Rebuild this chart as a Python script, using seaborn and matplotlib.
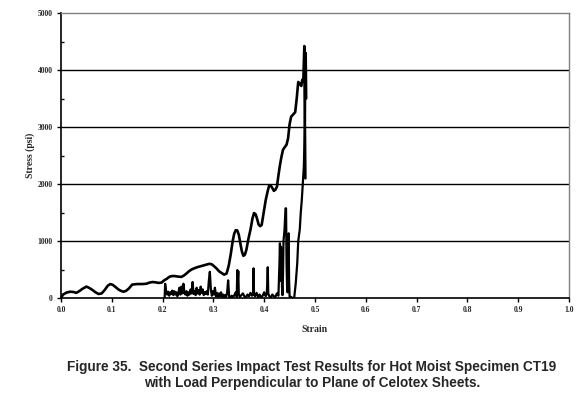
import matplotlib
matplotlib.use("Agg")
import matplotlib.pyplot as plt
import seaborn as sns
import pandas as pd
from matplotlib.ticker import MultipleLocator

# ---- data ----
strain_a = [0.000, 0.004, 0.011, 0.018, 0.025, 0.030, 0.036, 0.042, 0.050, 0.056,
            0.062, 0.068, 0.074, 0.080, 0.086, 0.092, 0.097, 0.102, 0.107, 0.113,
            0.118, 0.123, 0.128, 0.134, 0.140, 0.150, 0.160, 0.168, 0.174, 0.180,
            0.186, 0.192, 0.198, 0.203, 0.208, 0.213, 0.218, 0.224, 0.231, 0.237,
            0.242, 0.247, 0.252, 0.257, 0.262, 0.268, 0.274, 0.280, 0.286, 0.292,
            0.297, 0.301, 0.306, 0.311, 0.316, 0.321, 0.326, 0.330, 0.334, 0.338,
            0.341, 0.344, 0.347, 0.350, 0.353, 0.356, 0.359, 0.362, 0.365, 0.369,
            0.373, 0.377, 0.380, 0.383, 0.386, 0.389, 0.392, 0.395, 0.399, 0.403,
            0.407, 0.410, 0.413, 0.416, 0.419, 0.422, 0.425, 0.428, 0.431, 0.434,
            0.437, 0.440, 0.444, 0.447, 0.450, 0.453, 0.457, 0.461, 0.464, 0.467,
            0.470, 0.473, 0.475, 0.477, 0.479, 0.480, 0.481]
stress_a = [0, 60, 95, 110, 105, 90, 120, 160, 200, 175,
            140, 100, 70, 80, 140, 215, 245, 230, 195, 150,
            125, 110, 125, 170, 235, 245, 245, 250, 270, 280,
            275, 265, 270, 310, 335, 370, 385, 385, 375, 370,
            395, 430, 470, 500, 520, 540, 555, 570, 585, 600,
            590, 560, 520, 470, 440, 410, 430, 560, 760, 1000,
            1130, 1190, 1185, 1110, 960, 820, 740, 760, 850, 1040,
            1200, 1400, 1490, 1470, 1390, 1290, 1260, 1280, 1500, 1720,
            1880, 1980, 1970, 1930, 1880, 1900, 1950, 2150, 2330, 2480,
            2600, 2640, 2690, 2800, 3050, 3180, 3220, 3260, 3500, 3790,
            3760, 3720, 3830, 3800, 4420, 3100, 2100]

strain_b = [0.204, 0.205, 0.207, 0.209, 0.211, 0.213, 0.215, 0.217, 0.219, 0.221,
            0.223, 0.225, 0.227, 0.229, 0.231, 0.233, 0.235, 0.237, 0.239, 0.241,
            0.243, 0.245, 0.247, 0.249, 0.251, 0.253, 0.255, 0.257, 0.259, 0.261,
            0.263, 0.265, 0.267, 0.269, 0.271, 0.273, 0.275, 0.277, 0.279, 0.281,
            0.283, 0.285, 0.287, 0.289, 0.291, 0.293, 0.295, 0.297, 0.299, 0.301,
            0.303, 0.305, 0.307, 0.309, 0.311, 0.313, 0.315, 0.317, 0.319, 0.321,
            0.323, 0.325, 0.327, 0.329, 0.331, 0.333, 0.336, 0.339, 0.342, 0.344,
            0.346, 0.347, 0.348, 0.349, 0.350, 0.352, 0.355, 0.358, 0.361, 0.364,
            0.367, 0.370, 0.373, 0.376, 0.378, 0.379, 0.380, 0.382, 0.385, 0.388,
            0.391, 0.394, 0.397, 0.400, 0.403, 0.405, 0.406, 0.407, 0.408, 0.410,
            0.413, 0.416, 0.419, 0.422, 0.425, 0.428, 0.430, 0.431, 0.432, 0.433,
            0.434, 0.435, 0.436, 0.437, 0.438, 0.440, 0.442, 0.443, 0.444, 0.445,
            0.446, 0.447, 0.448, 0.449, 0.450, 0.451, 0.453, 0.455, 0.457, 0.459,
            0.462, 0.465, 0.467, 0.470, 0.472, 0.474, 0.476, 0.478, 0.480, 0.481,
            0.482, 0.483]
stress_b = [0, 250, 120, 60, 110, 40, 100, 70, 130, 50,
            120, 60, 100, 30, 90, 180, 60, 200, 80, 250,
            90, 60, 120, 40, 100, 60, 150, 80, 280, 70,
            120, 50, 180, 80, 140, 60, 200, 90, 150, 50,
            100, 70, 120, 60, 300, 460, 150, 40, 120, 60,
            180, 30, 90, 20, 80, 30, 100, 20, 60, 10,
            50, 20, 90, 310, 30, 0, 40, 20, 60, 100,
            20, 490, 300, 470, 60, 20, 50, 80, 30, 10,
            60, 30, 90, 40, 80, 520, 60, 30, 90, 20,
            60, 10, 40, 100, 30, 80, 250, 540, 80, 30,
            10, 60, 30, 20, 80, 40, 600, 960, 300, 900,
            820, 200, 50, 400, 1000, 1200, 1573, 1573, 600, 200,
            100, 1000, 1135, 300, 30, 0, 20, 0, 0, 0,
            250, 600, 1000, 1200, 1500, 1720, 2000, 2300, 3000, 3800,
            4300, 3500]

x_ticks = [0.0, 0.1, 0.2, 0.3, 0.4, 0.5, 0.6, 0.7, 0.8, 0.9, 1.0]
y_ticks = [0, 1000, 2000, 3000, 4000, 5000]

df_a = pd.DataFrame({"Strain": strain_a, "Stress": stress_a})
df_b = pd.DataFrame({"Strain": strain_b, "Stress": stress_b})

sns.set_theme(style="white")
plt.rcParams["font.family"] = ["Liberation Serif", "DejaVu Serif"]

fig = plt.figure(figsize=(5.8, 3.94), dpi=100)
ax = fig.add_axes([61/580, 1 - 298/394, 508/580, 285/394])

sns.lineplot(data=df_b, x="Strain", y="Stress", ax=ax, color="black",
             linewidth=1.6, sort=False, estimator=None)
sns.lineplot(data=df_a, x="Strain", y="Stress", ax=ax, color="black",
             linewidth=1.9, sort=False, estimator=None)

ax.set_xlim(0, 1.0)
ax.set_ylim(0, 5000)
ax.set_xticks(x_ticks)
ax.set_xticklabels([f"{v:.1f}" for v in x_ticks])
ax.set_yticks(y_ticks)
ax.set_yticklabels([str(v) for v in y_ticks])
ax.yaxis.set_minor_locator(MultipleLocator(500))

for yv in y_ticks[1:-1]:
    ax.axhline(yv, color="black", linewidth=1.0, zorder=0)

for s in ["left", "bottom"]:
    ax.spines[s].set_color("black")
    ax.spines[s].set_linewidth(1.2)
for s in ["top", "right"]:
    ax.spines[s].set_color("#808080")
    ax.spines[s].set_linewidth(1.0)

ax.tick_params(axis="both", which="major", direction="out", length=3,
               width=1, color="black", labelsize=5.5, pad=3, bottom=True, left=True)
ax.tick_params(axis="y", which="minor", direction="in", length=2, width=1,
               color="black", left=True)
for lab in ax.get_xticklabels() + ax.get_yticklabels():
    lab.set_fontweight("bold")

ax.set_xlabel("Strain", fontsize=7, fontweight="bold", labelpad=8)
ax.set_ylabel("Stress (psi)", fontsize=7, fontweight="bold", labelpad=2)

fig.text(312/580, 1 - 367/394,
         "Figure 35.  Second Series Impact Test Results for Hot Moist Specimen CT19",
         ha="center", va="center", fontsize=9.8, fontweight="bold",
         family=["Liberation Sans", "DejaVu Sans"])
fig.text(312/580, 1 - 383/394,
         "with Load Perpendicular to Plane of Celotex Sheets.",
         ha="center", va="center", fontsize=9.8, fontweight="bold",
         family=["Liberation Sans", "DejaVu Sans"])

fig.savefig("out.png", dpi=100)
